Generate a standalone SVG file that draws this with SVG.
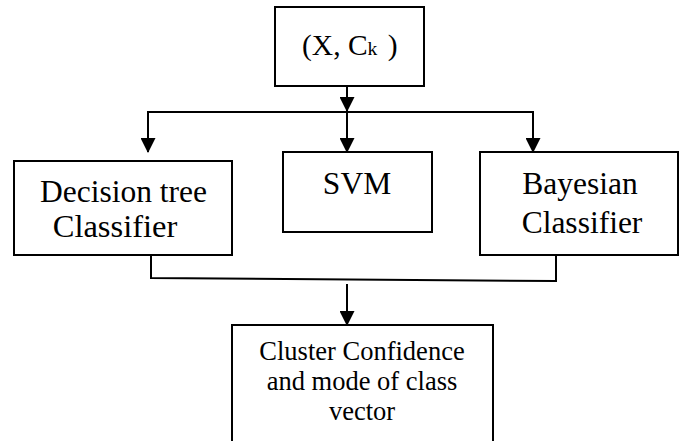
<svg xmlns="http://www.w3.org/2000/svg" width="685" height="441" viewBox="0 0 685 441">
<style>
.box{fill:#fff;stroke:#000;stroke-width:2}
.ln{fill:none;stroke:#000;stroke-width:2}
.t{font-family:"Liberation Serif","Times New Roman",serif;fill:#000;text-anchor:middle}
</style>
<defs>
<marker id="ah" markerWidth="15" markerHeight="15" refX="14" refY="7.5" orient="auto" markerUnits="userSpaceOnUse">
<path d="M0,0 L15,7.5 L0,15 Z" fill="#000"/>
</marker>
</defs>
<rect width="685" height="441" fill="#fff"/>
<g id="connectors">
<line class="ln" x1="347" y1="86" x2="347" y2="111" marker-end="url(#ah)"/>
<line class="ln" x1="147" y1="112" x2="534" y2="112"/>
<line class="ln" x1="148" y1="112" x2="148" y2="152" marker-end="url(#ah)"/>
<line class="ln" x1="347" y1="112" x2="347" y2="152" marker-end="url(#ah)"/>
<line class="ln" x1="533" y1="112" x2="533" y2="152" marker-end="url(#ah)"/>
<path class="ln" d="M151,255 V278 L556,281 V255"/>
<line class="ln" x1="347" y1="284" x2="347" y2="325" marker-end="url(#ah)"/>
</g>
<g id="input">
<rect class="box" x="275" y="7" width="149" height="79"/>
<text class="t" x="302" y="55" font-size="29.5" style="text-anchor:start">(X, C<tspan font-size="19.5">k</tspan><tspan dx="3"> )</tspan></text>
</g>
<g id="decision-tree">
<rect class="box" x="14" y="161" width="218" height="94"/>
<text class="t" x="123.5" y="202" font-size="31.5">Decision tree</text>
<text class="t" x="115" y="237" font-size="32.5">Classifier</text>
</g>
<g id="svm">
<rect class="box" x="283" y="152" width="149" height="80"/>
<text class="t" x="357" y="194" font-size="31.5">SVM</text>
</g>
<g id="bayesian">
<rect class="box" x="480" y="152" width="198" height="103"/>
<text class="t" x="580" y="194" font-size="31.5">Bayesian</text>
<text class="t" x="582" y="233" font-size="31.5">Classifier</text>
</g>
<g id="output">
<rect class="box" x="232" y="325" width="261" height="125"/>
<text class="t" x="362" y="360" font-size="26.5">Cluster Confidence</text>
<text class="t" x="362" y="390" font-size="26.5">and mode of class</text>
<text class="t" x="362" y="420" font-size="26.5">vector</text>
</g>
</svg>
